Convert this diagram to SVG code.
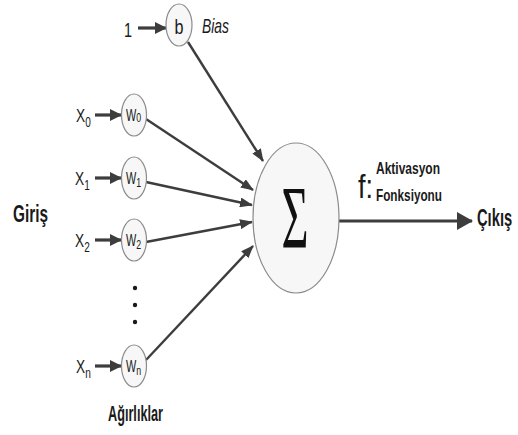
<svg xmlns="http://www.w3.org/2000/svg" width="518" height="435" viewBox="0 0 518 435">
  <style>
    .node { fill: #f7f7f7; stroke: #8c8c8c; stroke-width: 1.2; }
    .lbl { font-family: "Liberation Sans", Arial, sans-serif; fill: #1a1a1a; }
    .bold { font-weight: bold; }
    .wire { stroke: #3d3d3d; fill: none; }
    .in { stroke-width: 3.2; marker-end: url(#arrIn); }
    .sum { stroke-width: 2.4; marker-end: url(#arrSum); }
    .out { stroke-width: 3.2; marker-end: url(#arrOut); }
  </style>
  <defs>
    <marker id="arrIn" markerUnits="userSpaceOnUse" markerWidth="12" markerHeight="12" refX="11" refY="6" orient="auto">
      <path d="M0,0 L12,6 L0,12 z" fill="#3d3d3d"/>
    </marker>
    <marker id="arrSum" markerUnits="userSpaceOnUse" markerWidth="13" markerHeight="10" refX="12" refY="5" orient="auto">
      <path d="M0,0 L13,5 L0,10 z" fill="#3d3d3d"/>
    </marker>
    <marker id="arrOut" markerUnits="userSpaceOnUse" markerWidth="16" markerHeight="18" refX="15" refY="9" orient="auto">
      <path d="M0,0 L16,9 L0,18 z" fill="#3d3d3d"/>
    </marker>
  </defs>

  <rect width="518" height="435" fill="#ffffff"/>

  <!-- connectors -->
  <g id="connectors">
    <line class="wire in" x1="138" y1="28" x2="166" y2="28"/>
    <line class="wire in" x1="95" y1="115" x2="121" y2="115"/>
    <line class="wire in" x1="95" y1="178" x2="121" y2="178"/>
    <line class="wire in" x1="95" y1="240" x2="121" y2="240"/>
    <line class="wire in" x1="95" y1="366" x2="121" y2="366"/>
    <line class="wire sum" x1="188" y1="42" x2="263" y2="161"/>
    <line class="wire sum" x1="146" y1="119" x2="253" y2="190"/>
    <line class="wire sum" x1="146" y1="182" x2="252" y2="205"/>
    <line class="wire sum" x1="146" y1="242" x2="252" y2="222"/>
    <line class="wire sum" x1="146" y1="360" x2="253" y2="246"/>
    <line class="wire out" x1="339" y1="221" x2="472" y2="221"/>
  </g>

  <!-- inputs -->
  <g id="inputs" class="lbl" font-size="19">
    <text x="124" y="37" font-size="21" textLength="8" lengthAdjust="spacingAndGlyphs">1</text>
    <text transform="translate(76,122) scale(0.72,1)">X<tspan dy="5" font-size="14">0</tspan></text>
    <text transform="translate(75,185) scale(0.72,1)">X<tspan dy="5" font-size="14">1</tspan></text>
    <text transform="translate(75,247) scale(0.72,1)">X<tspan dy="5" font-size="14">2</tspan></text>
    <text transform="translate(76,373) scale(0.72,1)">X<tspan dy="5" font-size="14">n</tspan></text>
  </g>

  <!-- bias node -->
  <g id="bias">
    <ellipse class="node" cx="179" cy="25" rx="13" ry="21"/>
    <text class="lbl" x="179" y="34" font-size="20" text-anchor="middle" textLength="9" lengthAdjust="spacingAndGlyphs">b</text>
    <text class="lbl" x="202" y="33" font-size="21" font-style="italic" textLength="27" lengthAdjust="spacingAndGlyphs">Bias</text>
  </g>

  <!-- weight nodes -->
  <g id="w0">
    <ellipse class="node" cx="134" cy="115" rx="12.5" ry="21"/>
    <text class="lbl" font-size="16" transform="translate(126,121) scale(0.68,1)">W<tspan dy="1" font-size="13">0</tspan></text>
  </g>
  <g id="w1">
    <ellipse class="node" cx="134" cy="178" rx="12.5" ry="21"/>
    <text class="lbl" font-size="16" transform="translate(126,184) scale(0.68,1)">W<tspan dy="3" font-size="13">1</tspan></text>
  </g>
  <g id="w2">
    <ellipse class="node" cx="134" cy="240" rx="12.5" ry="21"/>
    <text class="lbl" font-size="16" transform="translate(126,246) scale(0.68,1)">W<tspan dy="3" font-size="13">2</tspan></text>
  </g>
  <g id="ellipsis" fill="#1a1a1a">
    <circle cx="135" cy="288" r="2.2"/>
    <circle cx="135" cy="305" r="2.2"/>
    <circle cx="135" cy="322" r="2.2"/>
  </g>
  <g id="wn">
    <ellipse class="node" cx="134" cy="366" rx="12.5" ry="21"/>
    <text class="lbl" font-size="16" transform="translate(126,372) scale(0.68,1)">W<tspan dy="3" font-size="13">n</tspan></text>
  </g>

  <!-- summation node -->
  <g id="sum">
    <ellipse class="node" cx="296" cy="218" rx="43" ry="75"/>
    <text x="295" y="247" font-family="'Liberation Serif', 'Times New Roman', serif" font-size="88" fill="#111" text-anchor="middle" textLength="27" lengthAdjust="spacingAndGlyphs">Σ</text>
  </g>

  <!-- activation label -->
  <g id="activation" class="lbl">
    <text x="358" y="198" font-size="34" textLength="15" lengthAdjust="spacingAndGlyphs">f:</text>
    <text class="bold" x="376" y="174" font-size="17" textLength="64" lengthAdjust="spacingAndGlyphs">Aktivasyon</text>
    <text class="bold" x="376" y="201" font-size="17" textLength="66" lengthAdjust="spacingAndGlyphs">Fonksiyonu</text>
  </g>

  <!-- side labels -->
  <g id="labels" class="lbl bold">
    <text x="13" y="222" font-size="24" textLength="35" lengthAdjust="spacingAndGlyphs">Giriş</text>
    <text transform="translate(477,226) scale(0.64,1)" font-size="23">Çıkış</text>
    <text x="108" y="421" font-size="22" textLength="55" lengthAdjust="spacingAndGlyphs">Ağırlıklar</text>
  </g>
</svg>
